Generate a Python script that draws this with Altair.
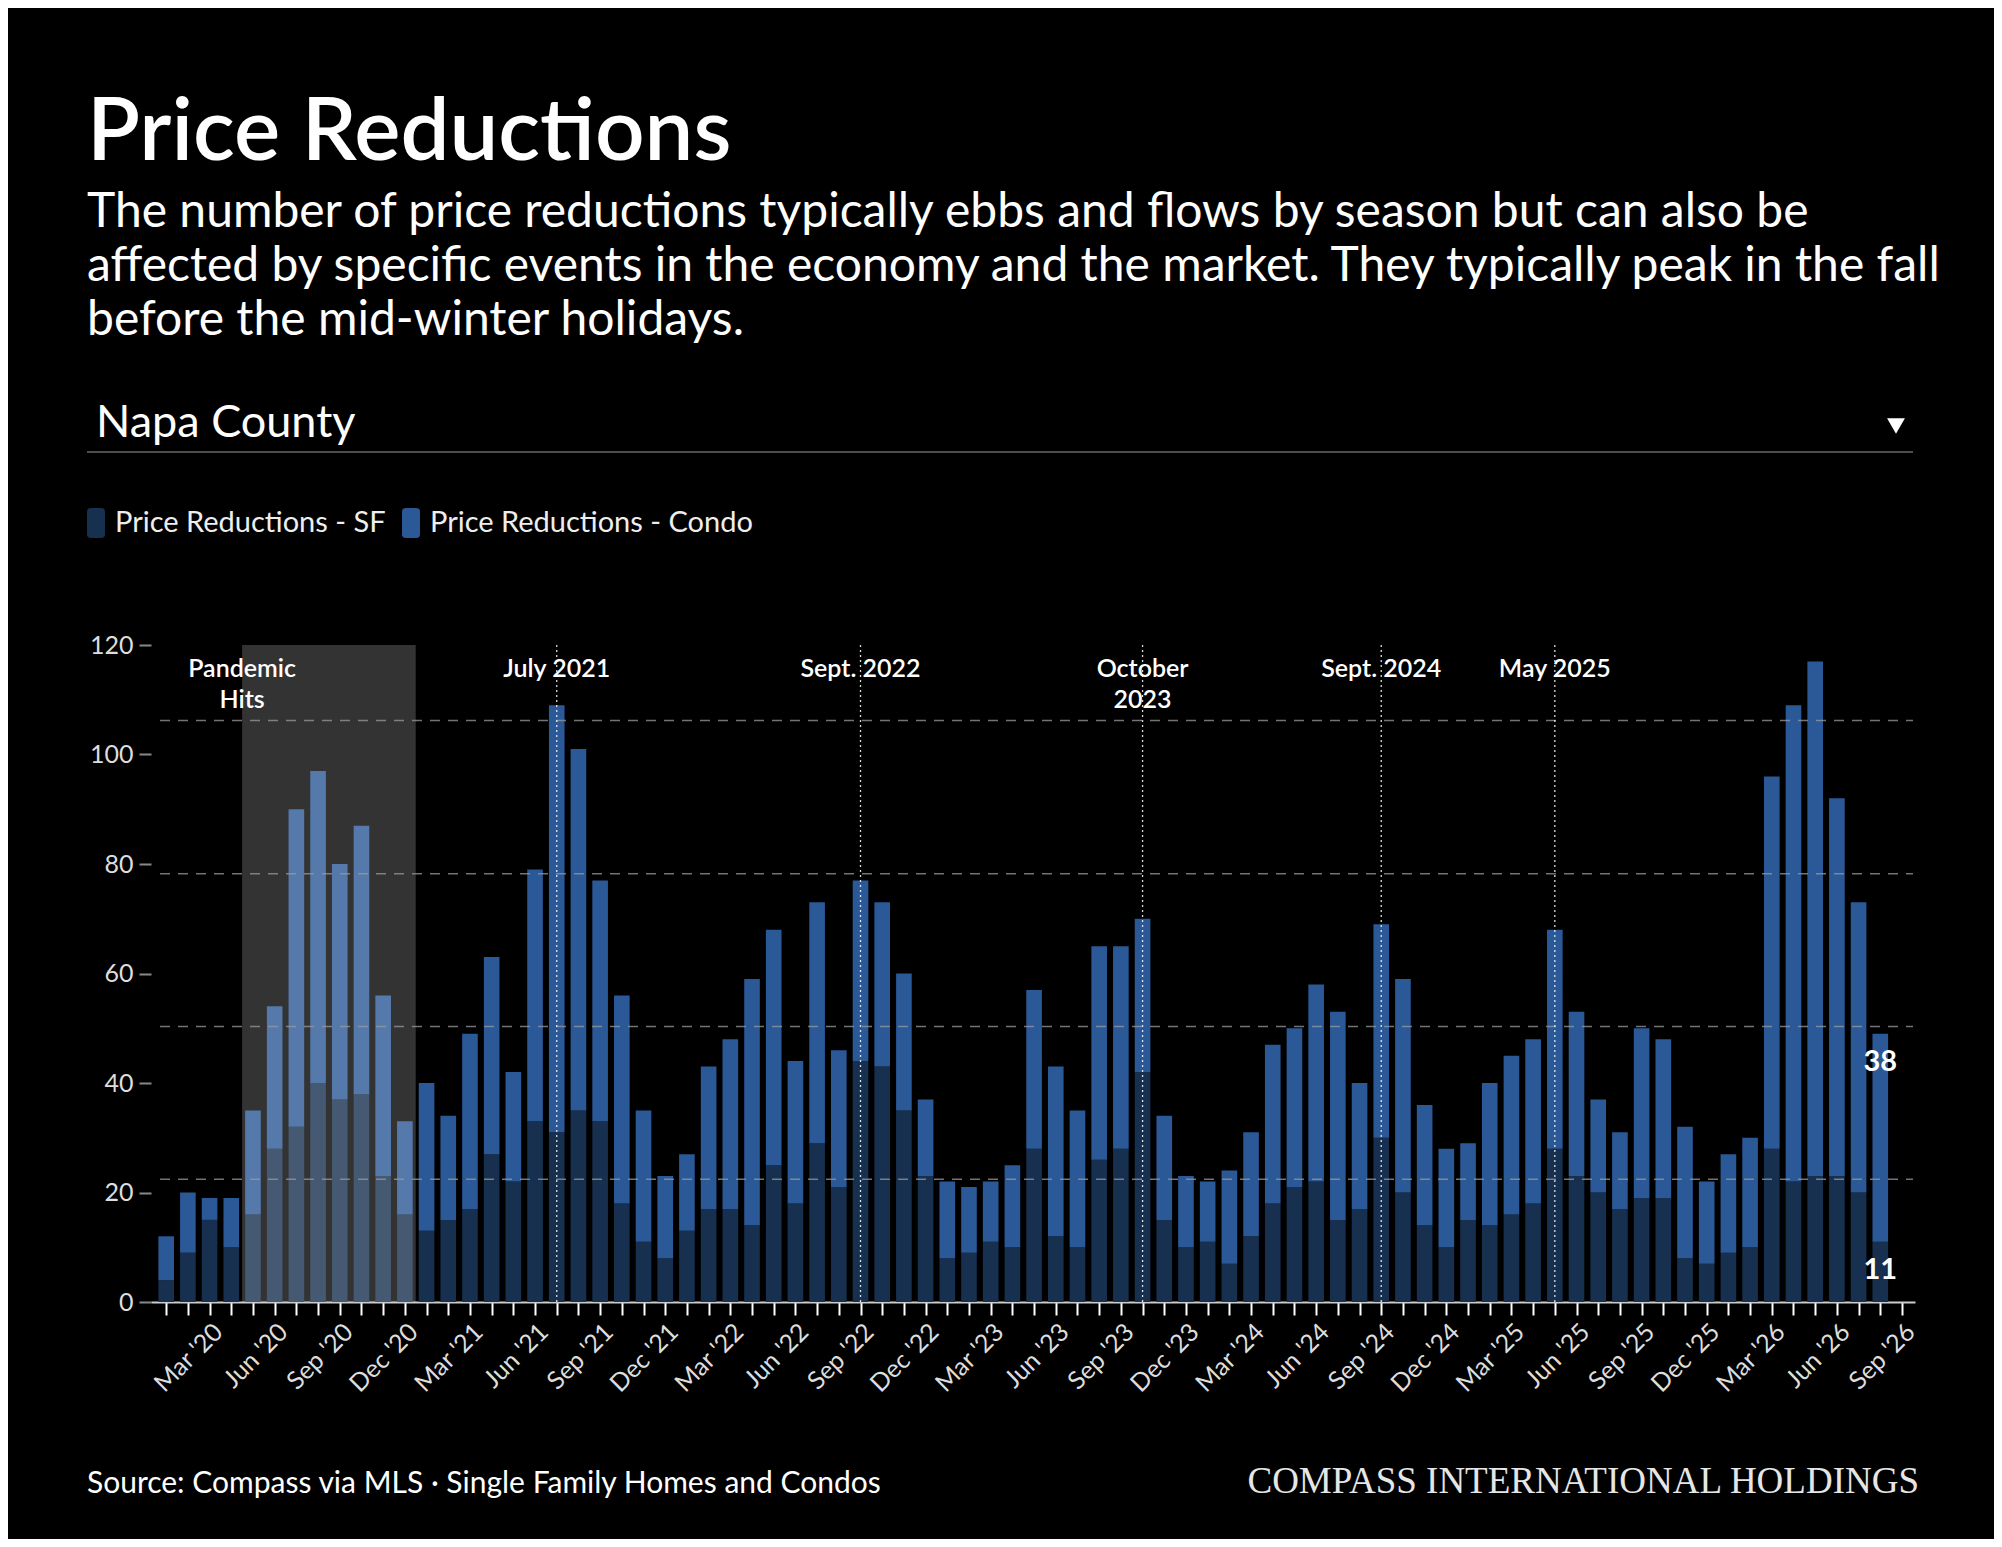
import json
import altair as alt
import pandas as pd

# ---------------- data ----------------
month_names = ["Jan", "Feb", "Mar", "Apr", "May", "Jun", "Jul", "Aug", "Sep", "Oct", "Nov", "Dec"]
month_labels = [f"{m} '{y % 100:02d}" for y in range(2020, 2027) for m in month_names][:81]

sf_values = [
    4, 9, 15, 10, 16, 28, 32, 40, 37, 38, 23, 16,
    13, 15, 17, 27, 22, 33, 31, 35, 33, 18, 11, 8,
    13, 17, 17, 14, 25, 18, 29, 21, 44, 43, 35, 23,
    8, 9, 11, 10, 28, 12, 10, 26, 28, 42, 15, 10,
    11, 7, 12, 18, 21, 22, 15, 17, 30, 20, 14, 10,
    15, 14, 16, 18, 28, 23, 20, 17, 19, 19, 8, 7,
    9, 10, 28, 22, 23, 23, 20, 11,
]
condo_values = [
    8, 11, 4, 9, 19, 26, 58, 57, 43, 49, 33, 17,
    27, 19, 32, 36, 20, 46, 78, 66, 44, 38, 24, 15,
    14, 26, 31, 45, 43, 26, 44, 25, 33, 30, 25, 14,
    14, 12, 11, 15, 29, 31, 25, 39, 37, 28, 19, 13,
    11, 17, 19, 29, 29, 36, 38, 23, 39, 39, 22, 18,
    14, 26, 29, 30, 40, 30, 17, 14, 31, 29, 24, 15,
    18, 20, 68, 87, 94, 69, 53, 38,
]
series_names = ["Price Reductions - SF", "Price Reductions - Condo"]
series_colors = ["#17304f", "#2b5897"]

event_months = [18, 32, 45, 56, 64]
event_labels = ["July 2021", "Sept. 2022", "October\n2023", "Sept. 2024", "May 2025"]
pandemic_start, pandemic_end = 3.5, 11.5
pandemic_label = "Pandemic\nHits"
grid_values = [22.4, 50.3, 78.2, 106.2]
y_ticks = [0, 20, 40, 60, 80, 100, 120]

title_text = "Price Reductions"
subtitle_lines = [
    "The number of price reductions typically ebbs and flows by season but can also be",
    "affected by specific events in the economy and the market. They typically peak in the fall",
    "before the mid-winter holidays.",
]
region_text = "Napa County"
source_text = "Source: Compass via MLS \u00b7 Single Family Homes and Condos"
brand_text = "COMPASS INTERNATIONAL HOLDINGS"

# ---------------- tables ----------------
rows = []
for i, (s, c) in enumerate(zip(sf_values, condo_values)):
    rows.append({"idx": i, "series": series_names[0], "lo": 0, "hi": s, "val": s})
    rows.append({"idx": i, "series": series_names[1], "lo": s, "hi": s + c, "val": c})
bars_df = pd.DataFrame(rows)

W, H = 1764, 657
FONT = "Lato"

xscale = alt.Scale(domain=[-0.7, 80.6], nice=False, zero=False)
yscale = alt.Scale(domain=[0, 120], nice=False)

label_expr = "datum.value % 3 == 2 ? " + json.dumps(month_labels) + "[datum.value] : ''"

x_axis = alt.Axis(
    values=list(range(81)), labelExpr=label_expr, title=None,
    labelAngle=-45, labelAlign="right", labelBaseline="top",
    labelFontSize=25, labelColor="#dddddd", labelFont=FONT, labelPadding=4,
    labelOverlap=False, labelFlush=False, labelBound=False,
    tickColor="#ffffff", tickWidth=2, tickSize=13,
    domainColor="#cccccc", domainWidth=2, grid=False)
y_axis = alt.Axis(
    values=y_ticks, title=None, labelFontSize=25, labelColor="#dddddd",
    labelFont=FONT, labelPadding=6, tickColor="#888888", tickWidth=2,
    tickSize=12, domain=False, grid=False)

bars = alt.Chart(bars_df).transform_calculate(
    x0="datum.idx - 0.36", x1="datum.idx + 0.36"
).mark_bar().encode(
    x=alt.X("x0:Q", scale=xscale, axis=x_axis),
    x2="x1:Q",
    y=alt.Y("lo:Q", scale=yscale, axis=y_axis),
    y2="hi:Q",
    color=alt.Color("series:N", scale=alt.Scale(domain=series_names, range=series_colors),
                    legend=alt.Legend(
                        title=None, orient="none", legendX=-70, legendY=-137,
                        direction="horizontal", symbolType="M-0.35,-1H0.35Q0.6,-1 0.6,-0.75V0.75Q0.6,1 0.35,1H-0.35Q-0.6,1 -0.6,0.75V-0.75Q-0.6,-1 -0.35,-1Z",
                        symbolSize=900, symbolStrokeWidth=0, symbolOpacity=1,
                        labelFontSize=29, labelColor="#eeeeee", labelFont=FONT,
                        labelLimit=600, labelOffset=4, columnPadding=10)),
    order=alt.Order("lo:Q"),
)

shade = alt.Chart(pd.DataFrame({"a": [pandemic_start], "b": [pandemic_end]})).mark_rect(
    color="#ffffff", opacity=0.2
).encode(x=alt.X("a:Q", scale=xscale, axis=x_axis), x2="b:Q", y=alt.value(0), y2=alt.value(H))

grid = alt.Chart(pd.DataFrame({"g": grid_values})).mark_rule(
    color="#9a9a9a", opacity=0.75, strokeDash=[10, 8], strokeWidth=1.5
).encode(y=alt.Y("g:Q", scale=yscale, axis=y_axis), x=alt.value(9), x2=alt.value(W - 2))

ev_df = pd.DataFrame({"idx": event_months, "label": event_labels})
ev_rules = alt.Chart(ev_df).mark_rule(
    color="#ffffff", strokeDash=[2, 3], strokeWidth=1.3, opacity=0.85
).encode(x=alt.X("idx:Q", scale=xscale, axis=x_axis), y=alt.value(0), y2=alt.value(H))

lab_df = pd.DataFrame({"idx": event_months + [pandemic_start],
                       "label": event_labels + [pandemic_label]})
ev_text = alt.Chart(lab_df).mark_text(
    color="#ffffff", font=FONT, fontSize=25, fontWeight=600, align="center",
    baseline="alphabetic", lineBreak="\n", lineHeight=31
).encode(x=alt.X("idx:Q", scale=xscale, axis=x_axis), y=alt.value(32), text="label:N")

last_labels = alt.Chart(bars_df).transform_filter("datum.idx == 79").mark_text(
    color="#ffffff", font=FONT, fontSize=29, fontWeight="bold", baseline="middle", dy=28
).encode(x=alt.X("idx:Q", scale=xscale, axis=x_axis),
         y=alt.Y("hi:Q", scale=yscale, axis=y_axis), text="val:Q")


def txt(s, x, y, size, weight="normal", align="left", font=FONT, color="#ffffff"):
    return alt.Chart(pd.DataFrame({"t": [s]})).mark_text(
        font=font, fontSize=size, fontWeight=weight, align=align,
        baseline="alphabetic", color=color
    ).encode(x=alt.value(x), y=alt.value(y), text="t:N")


header = [
    txt(title_text, -64, -485, 87, weight=600),
    txt(subtitle_lines[0], -64, -418, 48),
    txt(subtitle_lines[1], -64, -364, 48),
    txt(subtitle_lines[2], -64, -310, 48),
    txt(region_text, -55, -208, 45),
    txt(source_text, -64, 848, 30),
    txt(brand_text, 1768, 848, 37, align="right", font="Liberation Serif", color="#e6e6e6"),
]

divider = alt.Chart(pd.DataFrame({"a": [0]})).mark_rule(color="#4d4d4d", strokeWidth=2).encode(
    x=alt.value(-64), x2=alt.value(1762), y=alt.value(-193))
arrow = alt.Chart(pd.DataFrame({"a": [0]})).mark_point(
    shape="triangle-down", filled=True, color="#ffffff", size=320, opacity=1
).encode(x=alt.value(1745), y=alt.value(-219))

chart = alt.layer(
    bars, shade, grid, ev_rules, ev_text, last_labels, divider, arrow, *header
).properties(
    width=W, height=H,
    autosize=alt.AutoSizeParams(type="none"),
    padding={"left": 143, "top": 637, "right": 79, "bottom": 237},
    background="#000000",
).configure_view(stroke=None).configure_axisX(labelOverlap=False)

chart.save("out.html", embed_options={"renderer": "svg", "actions": False})
